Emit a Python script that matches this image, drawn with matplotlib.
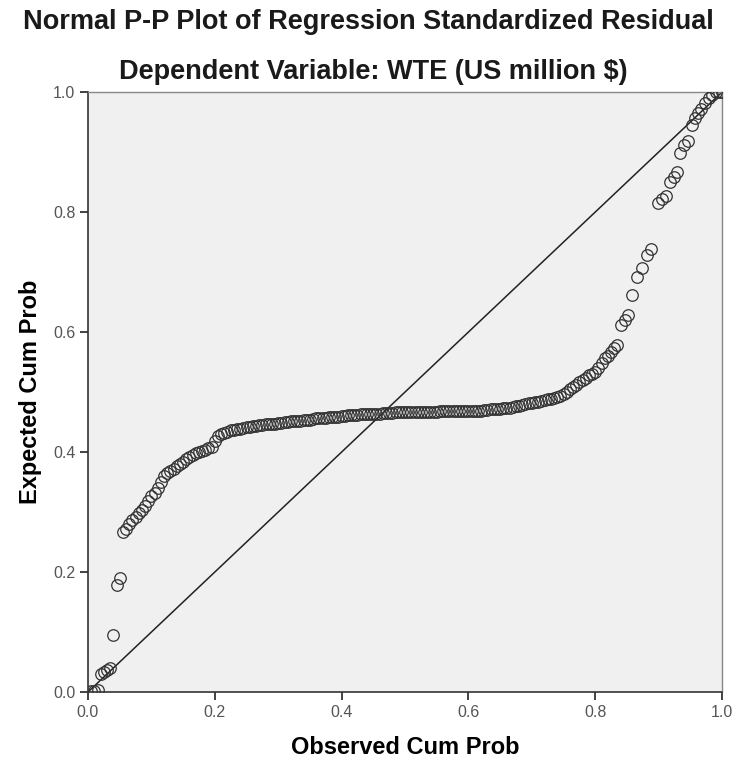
import matplotlib
matplotlib.use('Agg')
import matplotlib.pyplot as plt

plt.rcParams['font.family'] = ['Liberation Sans', 'DejaVu Sans']

# observed cumulative probability (x) and expected cumulative probability (y)
observed = [0.005, 0.010, 0.015, 0.020, 0.025, 0.030, 0.035, 0.040, 0.045, 0.050,
            0.055, 0.060, 0.065, 0.070, 0.075, 0.080, 0.085, 0.090, 0.095, 0.100,
            0.105, 0.110, 0.115, 0.120, 0.125, 0.130, 0.135, 0.140, 0.145, 0.150,
            0.155, 0.160, 0.165, 0.170, 0.175, 0.180, 0.185, 0.190, 0.195, 0.200,
            0.205, 0.210, 0.215, 0.220, 0.225, 0.230, 0.235, 0.240, 0.245, 0.250,
            0.255, 0.260, 0.265, 0.270, 0.275, 0.280, 0.285, 0.290, 0.295, 0.300,
            0.305, 0.310, 0.315, 0.320, 0.325, 0.330, 0.335, 0.340, 0.345, 0.350,
            0.355, 0.360, 0.365, 0.370, 0.375, 0.380, 0.385, 0.390, 0.395, 0.400,
            0.405, 0.410, 0.415, 0.420, 0.425, 0.430, 0.435, 0.440, 0.445, 0.450,
            0.455, 0.460, 0.465, 0.470, 0.475, 0.480, 0.485, 0.490, 0.495, 0.500,
            0.505, 0.510, 0.515, 0.520, 0.525, 0.530, 0.535, 0.540, 0.545, 0.550,
            0.555, 0.560, 0.565, 0.570, 0.575, 0.580, 0.585, 0.590, 0.595, 0.600,
            0.605, 0.610, 0.615, 0.620, 0.625, 0.630, 0.635, 0.640, 0.645, 0.650,
            0.655, 0.660, 0.665, 0.670, 0.675, 0.680, 0.685, 0.690, 0.695, 0.700,
            0.705, 0.710, 0.715, 0.720, 0.725, 0.730, 0.735, 0.740, 0.745, 0.750,
            0.755, 0.760, 0.765, 0.770, 0.775, 0.780, 0.785, 0.790, 0.795, 0.800,
            0.805, 0.810, 0.815, 0.820, 0.825, 0.830, 0.835, 0.840, 0.847, 0.852,
            0.858, 0.866, 0.874, 0.881, 0.888, 0.899, 0.906, 0.912, 0.918, 0.924,
            0.929, 0.934, 0.940, 0.946, 0.953, 0.957, 0.962, 0.967, 0.973, 0.979,
            0.984, 0.990, 0.995, 1.000]
expected = [0.001, 0.002, 0.004, 0.030, 0.034, 0.036, 0.040, 0.095, 0.178, 0.190,
            0.267, 0.272, 0.280, 0.287, 0.292, 0.298, 0.303, 0.310, 0.318, 0.326,
            0.332, 0.340, 0.350, 0.360, 0.365, 0.368, 0.372, 0.376, 0.380, 0.383,
            0.388, 0.392, 0.395, 0.398, 0.400, 0.402, 0.404, 0.406, 0.409, 0.418,
            0.427, 0.430, 0.432, 0.434, 0.436, 0.437, 0.438, 0.439, 0.440, 0.441,
            0.442, 0.443, 0.444, 0.445, 0.445, 0.446, 0.446, 0.447, 0.447, 0.448,
            0.449, 0.450, 0.450, 0.451, 0.451, 0.452, 0.452, 0.453, 0.453, 0.454,
            0.455, 0.456, 0.456, 0.457, 0.457, 0.458, 0.458, 0.459, 0.459, 0.460,
            0.460, 0.461, 0.461, 0.462, 0.462, 0.463, 0.463, 0.463, 0.464, 0.464,
            0.464, 0.464, 0.465, 0.465, 0.465, 0.465, 0.466, 0.466, 0.466, 0.466,
            0.466, 0.466, 0.467, 0.467, 0.467, 0.467, 0.467, 0.467, 0.467, 0.467,
            0.468, 0.468, 0.468, 0.468, 0.468, 0.468, 0.468, 0.468, 0.468, 0.468,
            0.469, 0.469, 0.469, 0.469, 0.470, 0.470, 0.471, 0.471, 0.472, 0.472,
            0.473, 0.473, 0.474, 0.475, 0.476, 0.477, 0.478, 0.480, 0.481, 0.482,
            0.483, 0.484, 0.485, 0.486, 0.488, 0.489, 0.490, 0.492, 0.494, 0.496,
            0.500, 0.505, 0.508, 0.512, 0.516, 0.520, 0.524, 0.528, 0.530, 0.533,
            0.540, 0.548, 0.556, 0.560, 0.566, 0.573, 0.578, 0.612, 0.620, 0.628,
            0.662, 0.692, 0.707, 0.728, 0.738, 0.815, 0.822, 0.826, 0.850, 0.858,
            0.866, 0.898, 0.912, 0.918, 0.945, 0.957, 0.965, 0.972, 0.982, 0.990,
            0.995, 1.000, 1.000, 1.000]

ticks = [0.0, 0.2, 0.4, 0.6, 0.8, 1.0]
tick_labels = ['0.0', '0.2', '0.4', '0.6', '0.8', '1.0']

fig = plt.figure(figsize=(7.37, 7.64), dpi=100)
ax = fig.add_axes([0.1194, 0.0942, 0.8603, 0.7853])
ax.set_facecolor('#f0f0f0')

ax.plot([0, 1], [0, 1], color='#222222', linewidth=1.1, zorder=2)
ax.plot(observed, expected, linestyle='none', marker='o', markersize=8.3,
        markerfacecolor='none', markeredgecolor='#333333', markeredgewidth=0.9,
        zorder=3)

ax.set_xlim(0, 1)
ax.set_ylim(0, 1)
ax.set_xticks(ticks)
ax.set_xticklabels(tick_labels)
ax.set_yticks(ticks)
ax.set_yticklabels(tick_labels)
ax.tick_params(direction='out', length=6, width=1.3, color='#333333',
               labelsize=11.5, labelcolor='#555555', pad=3)

for side in ['left', 'bottom']:
    ax.spines[side].set_color('#333333')
    ax.spines[side].set_linewidth(1.2)
for side in ['top', 'right']:
    ax.spines[side].set_color('#888888')
    ax.spines[side].set_linewidth(1.0)

ax.set_xlabel('Observed Cum Prob', fontsize=17, fontweight='bold', labelpad=12)
ax.set_ylabel('Expected Cum Prob', fontsize=17, fontweight='bold', labelpad=8)

fig.text(0.5, 0.971, 'Normal P-P Plot of Regression Standardized Residual',
         ha='center', va='center', fontsize=19.5, fontweight='bold', color='#1a1a1a')
fig.text(0.506, 0.906, 'Dependent Variable: WTE (US million $)',
         ha='center', va='center', fontsize=19.5, fontweight='bold', color='#1a1a1a')

fig.savefig('out.png', dpi=100)
